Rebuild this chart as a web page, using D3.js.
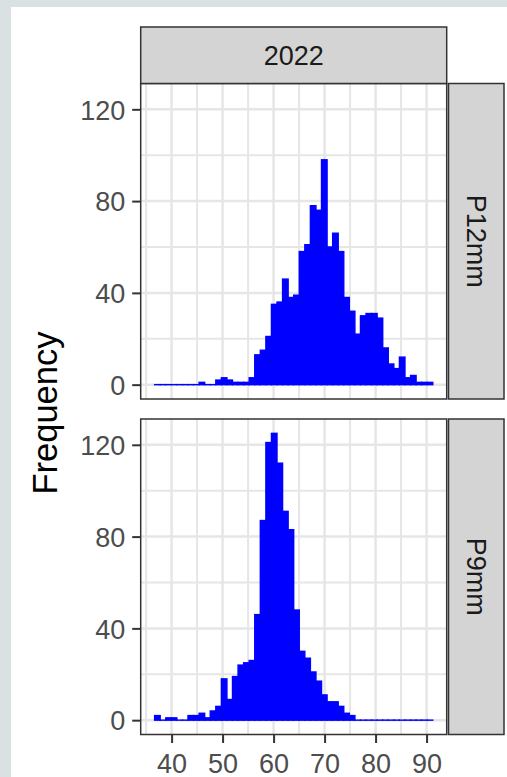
<!DOCTYPE html>
<html>
<head>
<meta charset="utf-8">
<script src="https://cdn.jsdelivr.net/npm/d3@7"></script>
<style>
  html, body { margin: 0; padding: 0; background: #d9e1e3; }
  svg { display: block; }
</style>
</head>
<body>
<script>
// Histogram counts per size class, 50 equal-width bins
const year = "2022";
const panels = ["P12mm", "P9mm"];
const binStart = 36.67;
const binWidth = 1.091;
const countsP12mm = [0,0,0,0,0,0,0,0,1,0, 0,2,3,2,1,1,1,3,13,15, 21,35,36,46,38,39,58,61,78,76,
                     98,60,66,58,38,32,22,30,31,31, 29,16,9,7,12,3,4,1,1,1];
const countsP9mm  = [2,0,1,1,0,0,2,2,3,1, 4,6,18,9,19,24,25,26,46,87, 121,125,112,91,83,48,30,27,21,17,
                     11,8,8,6,3,2,0,0,0,0, 0,0,0,0,0,0,0,0,0,0];
const xTicks = [40, 50, 60, 70, 80, 90];
const yTicks = [0, 40, 80, 120];
const yAxisTitle = "Frequency";

const W = 507, H = 777;
const svg = d3.select("body").append("svg").attr("width", W).attr("height", H);

// page background
svg.append("rect").attr("x", 11).attr("y", 7).attr("width", W - 11).attr("height", H - 7).attr("fill", "#ffffff");

const font = "'Liberation Sans', Arial, Helvetica, sans-serif";
const panelLeft = 140.7, panelRight = 446.7;
const panelBoxes = [{ top: 83.5, bottom: 399 }, { top: 419, bottom: 734.5 }];
const countsByPanel = { P12mm: countsP12mm, P9mm: countsP9mm };

// shared x scale with 5% expansion around the bin range
const binEnd = binStart + binWidth * countsP12mm.length;
const xPad = (binEnd - binStart) * 0.05;
const x = d3.scaleLinear().domain([binStart - xPad, binEnd + xPad]).range([panelLeft, panelRight]);

// shared y scale (fixed across facets)
const yMax = d3.max([...countsP12mm, ...countsP9mm]);
const yDomain = [-yMax * 0.05, yMax * 1.05];

const gridColor = "#e6e6e6";
const xMinor = d3.range(35, 95, 10);
const yMinor = [20, 60, 100];

panels.forEach((name, pi) => {
  const box = panelBoxes[pi];
  const y = d3.scaleLinear().domain(yDomain).range([box.bottom, box.top]);
  const g = svg.append("g");
  const counts = countsByPanel[name];

  g.append("rect").attr("x", panelLeft).attr("y", box.top)
    .attr("width", panelRight - panelLeft).attr("height", box.bottom - box.top).attr("fill", "#ffffff");

  // minor grid
  g.selectAll(".vminor").data(xMinor).join("line")
    .attr("x1", d => x(d)).attr("x2", d => x(d)).attr("y1", box.top).attr("y2", box.bottom)
    .attr("stroke", gridColor).attr("stroke-width", 2);
  g.selectAll(".hminor").data(yMinor).join("line")
    .attr("x1", panelLeft).attr("x2", panelRight).attr("y1", d => y(d)).attr("y2", d => y(d))
    .attr("stroke", gridColor).attr("stroke-width", 2);
  // major grid
  g.selectAll(".vmajor").data(xTicks).join("line")
    .attr("x1", d => x(d)).attr("x2", d => x(d)).attr("y1", box.top).attr("y2", box.bottom)
    .attr("stroke", gridColor).attr("stroke-width", 2.5);
  g.selectAll(".hmajor").data(yTicks).join("line")
    .attr("x1", panelLeft).attr("x2", panelRight).attr("y1", d => y(d)).attr("y2", d => y(d))
    .attr("stroke", gridColor).attr("stroke-width", 2.5);

  // bars (empty bins keep a hairline height so their outline still shows)
  g.selectAll(".bar").data(counts).join("rect")
    .attr("x", (d, i) => x(binStart + i * binWidth))
    .attr("width", (d, i) => x(binStart + (i + 1) * binWidth) - x(binStart + i * binWidth))
    .attr("y", d => Math.min(y(d), y(0) - 0.01))
    .attr("height", d => Math.max(y(0) - y(d), 0.01))
    .attr("fill", "blue").attr("stroke", "blue").attr("stroke-width", 1.4);

  // panel border
  g.append("rect").attr("x", panelLeft).attr("y", box.top)
    .attr("width", panelRight - panelLeft).attr("height", box.bottom - box.top)
    .attr("fill", "none").attr("stroke", "#333333").attr("stroke-width", 1.5);

  // y axis
  const yAxis = g.append("g").attr("transform", `translate(${panelLeft},0)`)
    .call(d3.axisLeft(y).tickValues(yTicks).tickSize(8.5).tickPadding(7).tickFormat(d3.format("d")));
  yAxis.select(".domain").remove();
  yAxis.selectAll(".tick line").attr("stroke", "#333333").attr("stroke-width", 2);
  yAxis.selectAll(".tick text").attr("fill", "#4d4d4d").attr("font-family", font)
    .attr("font-size", 27).attr("dy", "0.36em");

  // right strip
  const sx = 448.5, sw = 55.5;
  g.append("rect").attr("x", sx).attr("y", box.top).attr("width", sw).attr("height", box.bottom - box.top)
    .attr("fill", "#d4d4d4").attr("stroke", "#333333").attr("stroke-width", 1.5);
  g.append("text")
    .attr("transform", `translate(${sx + sw / 2},${(box.top + box.bottom) / 2}) rotate(90)`)
    .attr("text-anchor", "middle").attr("dy", "0.36em")
    .attr("font-family", font).attr("font-size", 27).attr("fill", "#1a1a1a")
    .text(name);

  // x axis under the last panel
  if (pi === panels.length - 1) {
    const xAxis = g.append("g").attr("transform", `translate(0,${box.bottom})`)
      .call(d3.axisBottom(x).tickValues(xTicks).tickSize(8.5).tickPadding(7).tickFormat(d3.format("d")));
    xAxis.select(".domain").remove();
    xAxis.selectAll(".tick line").attr("stroke", "#333333").attr("stroke-width", 2);
    xAxis.selectAll(".tick text").attr("fill", "#4d4d4d").attr("font-family", font)
      .attr("font-size", 27).attr("dy", "0.84em");
  }
});

// top strip
const stripTop = 27, stripBottom = 83.5;
svg.append("rect").attr("x", panelLeft).attr("y", stripTop)
  .attr("width", panelRight - panelLeft).attr("height", stripBottom - stripTop)
  .attr("fill", "#d4d4d4").attr("stroke", "#333333").attr("stroke-width", 1.5);
svg.append("text").attr("x", (panelLeft + panelRight) / 2).attr("y", (stripTop + stripBottom) / 2)
  .attr("text-anchor", "middle").attr("dy", "0.36em")
  .attr("font-family", font).attr("font-size", 27).attr("fill", "#1a1a1a")
  .text(year);

// y axis title
svg.append("text")
  .attr("transform", `translate(57,413) rotate(-90)`)
  .attr("text-anchor", "middle")
  .attr("font-family", font).attr("font-size", 34.5).attr("fill", "#000000")
  .text(yAxisTitle);
</script>
</body>
</html>
